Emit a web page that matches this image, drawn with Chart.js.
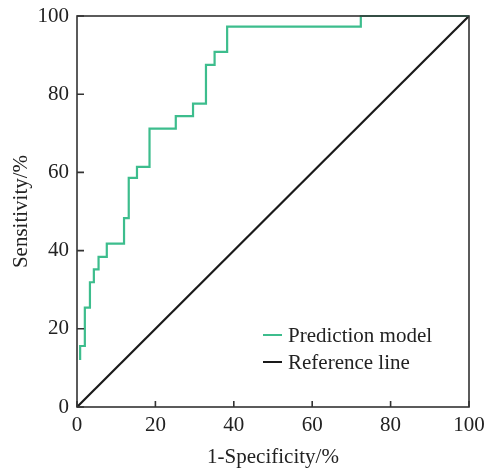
<!DOCTYPE html>
<html><head><meta charset="utf-8">
<script src="https://cdn.jsdelivr.net/npm/chart.js@4/dist/chart.umd.min.js"></script>
<style>html,body{margin:0;padding:0;background:#fff}#wrap{width:486px;height:468px}</style>
</head><body><div id="wrap"><canvas id="c" width="486" height="468"></canvas></div>
<script>
// ROC step points (1-Specificity %, Sensitivity %)
const fpr = [0.8, 2.0, 3.3, 4.3, 5.5, 7.6, 12.0, 13.2, 15.3, 18.5, 25.2, 29.6, 32.9, 35.1, 38.3, 72.4, 100];
const tpr = [12.0, 15.6, 25.4, 31.9, 35.2, 38.4, 41.8, 48.3, 58.6, 61.4, 71.2, 74.4, 77.6, 87.5, 90.8, 97.3, 100];
const refX = [0, 100];
const refY = [0, 100];
const xTicks = [0, 20, 40, 60, 80, 100];
const yTicks = [0, 20, 40, 60, 80, 100];
const seriesNames = ['Prediction model', 'Reference line'];

const FONT = '"Liberation Serif", "Times New Roman", serif';
const GREEN = '#3dbd8d';
const BLACK = '#1a1a1a';
const AXIS = '#333333';

const boxPlugin = {
  id: 'boxPlugin',
  afterDraw(chart) {
    const {ctx, chartArea: a, scales} = chart;
    ctx.save();
    ctx.strokeStyle = AXIS;
    ctx.lineWidth = 1.6;
    ctx.strokeRect(a.left, a.top, a.right - a.left, a.bottom - a.top);
    // inward ticks
    ctx.beginPath();
    xTicks.forEach(v => {
      const px = scales.x.getPixelForValue(v);
      ctx.moveTo(px, a.bottom); ctx.lineTo(px, a.bottom - 6);
    });
    yTicks.forEach(v => {
      const py = scales.y.getPixelForValue(v);
      ctx.moveTo(a.left, py); ctx.lineTo(a.left + 7, py);
    });
    ctx.stroke();
    // legend
    const lx = a.left + 186, ly0 = a.bottom - 72, gap = 27;
    chart.data.datasets.forEach((ds, i) => {
      const y = ly0 + i * gap;
      ctx.strokeStyle = ds.borderColor;
      ctx.lineWidth = 2;
      ctx.beginPath(); ctx.moveTo(lx, y); ctx.lineTo(lx + 19, y); ctx.stroke();
      ctx.fillStyle = '#222';
      ctx.font = '21px ' + FONT;
      ctx.textBaseline = 'middle';
      ctx.textAlign = 'left';
      ctx.fillText(ds.label, lx + 25, y + 1);
    });
    ctx.restore();
  }
};

new Chart(document.getElementById('c'), {
  type: 'line',
  data: {
    datasets: [
      {
        label: seriesNames[0],
        data: fpr.map((x, i) => ({x, y: tpr[i]})),
        borderColor: GREEN,
        borderWidth: 2.2,
        pointRadius: 0,
        stepped: 'after',
        fill: false,
        clip: 4
      },
      {
        label: seriesNames[1],
        data: refX.map((x, i) => ({x, y: refY[i]})),
        borderColor: BLACK,
        borderWidth: 2.2,
        pointRadius: 0,
        fill: false
      }
    ]
  },
  options: {
    responsive: false,
    devicePixelRatio: 1,
    animation: false,
    layout: {padding: {top: 16, right: 17, left: 0, bottom: 0}},
    plugins: {legend: {display: false}, tooltip: {enabled: false}},
    scales: {
      x: {
        type: 'linear', min: 0, max: 100,
        afterBuildTicks: s => { s.ticks = xTicks.map(v => ({value: v})); },
        afterFit: s => { s.height = 61; s.paddingLeft = 0; s.paddingRight = 0; },
        grid: {display: false, drawTicks: false},
        border: {display: false},
        ticks: {color: '#222', font: {family: FONT, size: 21}, padding: 6, maxRotation: 0},
        title: {display: true, text: '1-Specificity/%', color: '#222', font: {family: FONT, size: 21, lineHeight: 1}, padding: {top: 0, bottom: 0}}
      },
      y: {
        type: 'linear', min: 0, max: 100,
        afterBuildTicks: s => { s.ticks = yTicks.map(v => ({value: v})); },
        afterFit: s => { s.width = 77; s.paddingTop = 0; s.paddingBottom = 0; },
        grid: {display: false, drawTicks: false},
        border: {display: false},
        ticks: {color: '#222', font: {family: FONT, size: 21}, padding: 8},
        title: {display: true, text: 'Sensitivity/%', color: '#222', font: {family: FONT, size: 21, lineHeight: 1}, padding: {top: 11, bottom: 0}}
      }
    }
  },
  plugins: [boxPlugin]
});
</script>
</body></html>
